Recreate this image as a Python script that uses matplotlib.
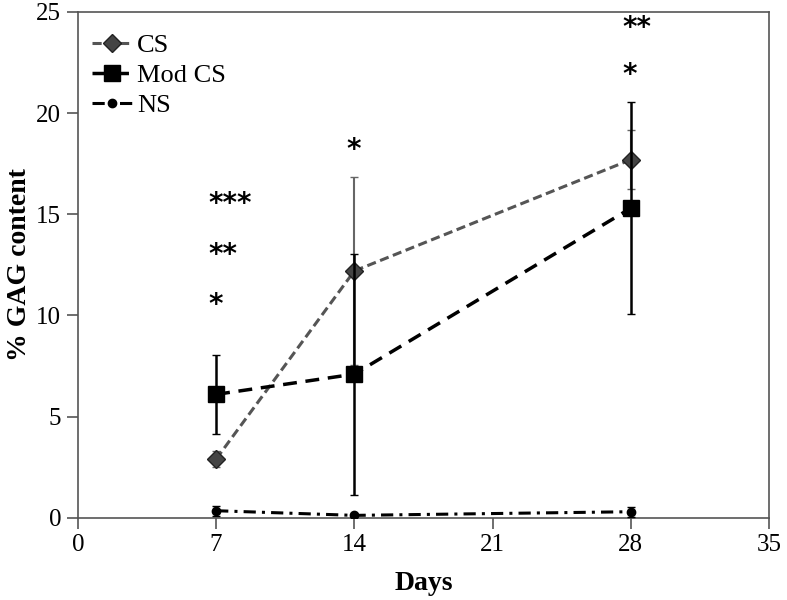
import numpy as np
import matplotlib.pyplot as plt
from matplotlib.lines import Line2D

days = [7, 14, 28]
cs = [2.9, 12.2, 17.7]
cs_err = [0.4, 4.65, 1.45]
mod_cs = [6.1, 7.1, 15.3]
mod_cs_err = [1.95, 5.95, 5.25]
ns = [0.35, 0.12, 0.3]
ns_err = [0.25, 0.05, 0.25]

# significance marks: (day, y, text)
sig_days = [7, 7, 7, 14, 28, 28]
sig_y = [10.5, 13.0, 15.5, 18.2, 21.9, 24.2]
sig_text = ["*", "**", "***", "*", "*", "**"]

plt.rcParams['font.family'] = ['Liberation Serif', 'DejaVu Serif']

fig = plt.figure(figsize=(7.87, 6.0), dpi=100)
ax = fig.add_axes([0.099, 0.137, 0.878, 0.843])

cs_style = dict(color='#555555', ls=(0, (3, 1.5)), lw=2.2, marker='D', ms=9, mfc='#444444', mec='#222222')
mod_style = dict(color='black', ls=(0, (4, 2.5)), lw=2.5, marker='s', ms=11)
ns_style = dict(color='black', ls=(0, (4, 2, 1, 2)), lw=2.2, marker='o', ms=6)

ax.errorbar(days, cs, yerr=cs_err, ecolor='#666666', capsize=3, elinewidth=1.5, zorder=3, **cs_style)
ax.errorbar(days, mod_cs, yerr=mod_cs_err, ecolor='black', capsize=3, elinewidth=1.8, zorder=4, **mod_style)
ax.errorbar(days, ns, yerr=ns_err, ecolor='black', capsize=3, elinewidth=1.5, zorder=4, **ns_style)

for d, y, t in zip(sig_days, sig_y, sig_text):
    ax.text(d - 0.4, y, t, family='DejaVu Sans', fontsize=20, fontweight='bold', ha='left', va='center')

ax.set_xlim(0, 35)
ax.set_ylim(0, 25)
ax.set_xticks([0, 7, 14, 21, 28, 35])
ax.set_yticks([0, 5, 10, 15, 20, 25])
ax.tick_params(labelsize=18, direction='out', length=8, pad=4, color='#555555', width=1.2)
ax.set_xlabel('Days', fontsize=20, fontweight='bold')
ax.set_ylabel('% GAG content', fontsize=20, fontweight='bold')
ax.xaxis.set_label_coords(0.5, -0.105)
ax.yaxis.set_label_coords(-0.066, 0.5)
for s in ax.spines.values():
    s.set_color('#555555')
    s.set_linewidth(1.2)

handles = [Line2D([], [], **cs_style), Line2D([], [], **mod_style), Line2D([], [], **ns_style)]
ax.legend(handles, ['CS', 'Mod CS', 'NS'], loc='upper left', bbox_to_anchor=(-0.006, 0.994), frameon=False,
          fontsize=19, handlelength=1.5, handletextpad=0.2, labelspacing=0.25, borderaxespad=0.4,
          borderpad=0.3)

fig.savefig('out.png', dpi=100)
